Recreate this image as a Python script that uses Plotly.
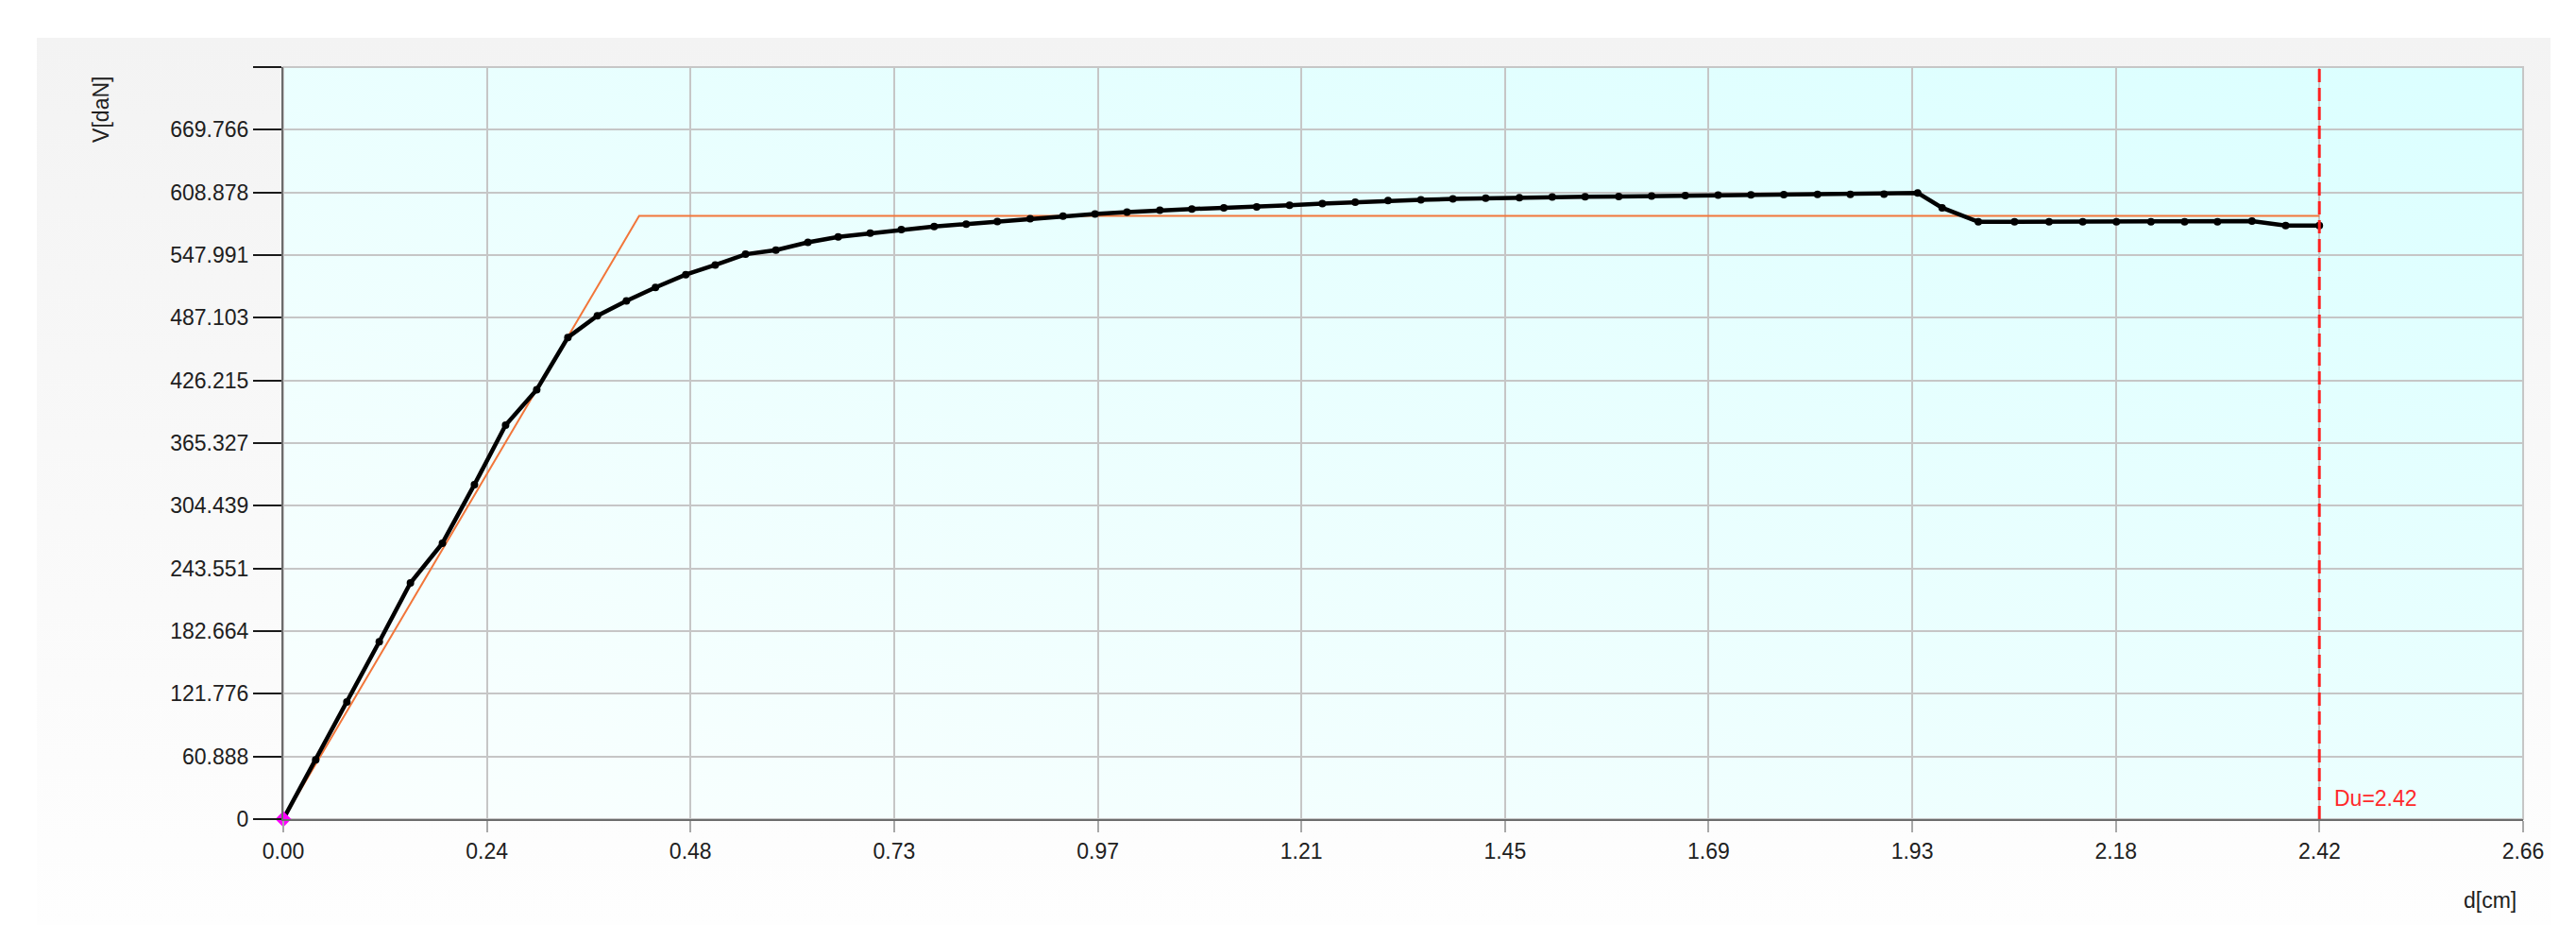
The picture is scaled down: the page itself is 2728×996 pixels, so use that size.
# -*- coding: utf-8 -*-

import base64

import plotly.graph_objs as go

# measured capacity curve (displacement in cm, shear in daN)
displacement_cm = [
    0.000, 0.0385, 0.0755, 0.114, 0.151, 0.189, 0.227, 0.264, 0.301, 0.338,
    0.373, 0.4075, 0.442, 0.478, 0.513, 0.549, 0.585, 0.623, 0.659, 0.697,
    0.734, 0.773, 0.811, 0.848, 0.887, 0.926, 0.964, 1.002, 1.041, 1.079,
    1.117, 1.156, 1.195, 1.234, 1.273, 1.312, 1.351, 1.389, 1.428, 1.468,
    1.507, 1.546, 1.586, 1.625, 1.665, 1.704, 1.743, 1.782, 1.822, 1.861,
    1.901, 1.941, 1.970, 2.013, 2.056, 2.097, 2.137, 2.177, 2.218, 2.258,
    2.297, 2.338, 2.378, 2.418,
]
shear_dan = [
    0.0, 57.6, 113.8, 172.3, 229.5, 268.1, 325.0, 382.8, 417.2, 468.0,
    489.0, 503.5, 516.6, 529.0, 538.4, 548.8, 552.8, 560.4, 565.6, 569.3,
    572.7, 575.7, 578.1, 580.6, 583.3, 585.8, 588.0, 589.8, 591.6, 592.8,
    594.0, 594.9, 596.5, 598.0, 599.5, 601.0, 601.6, 602.5, 603.2, 603.8,
    604.4, 604.7, 605.0, 605.3, 605.8, 606.2, 606.5, 606.8, 607.0, 607.0,
    607.1, 608.3, 594.0, 580.3, 580.3, 580.3, 580.3, 580.3, 580.3, 580.3,
    580.3, 581.0, 576.6, 576.6,
]

# idealised bilinear curve
bilinear_d = [0.0, 0.4226, 2.418]
bilinear_v = [0.0, 586.0, 586.0]

ultimate_d = 2.418
ultimate_label = "Du=2.42"

x_tick_values = [0.0, 0.2418, 0.4836, 0.7255, 0.9673, 1.2091, 1.4509, 1.6927,
                 1.9345, 2.1764, 2.4182, 2.66]
x_tick_labels = ["0.00", "0.24", "0.48", "0.73", "0.97", "1.21", "1.45", "1.69",
                 "1.93", "2.18", "2.42", "2.66"]
y_tick_values = [0.0, 60.888, 121.776, 182.664, 243.551, 304.439, 365.327,
                 426.215, 487.103, 547.991, 608.878, 669.766, 730.654]
y_tick_labels = ["0", "60.888", "121.776", "182.664", "243.551", "304.439",
                 "365.327", "426.215", "487.103", "547.991", "608.878",
                 "669.766", ""]

FONT = "Liberation Sans, Arial, sans-serif"
TEXT_COLOR = "#202020"
GRID_COLOR = "#c6c6c6"


def _gradient_uri(x1, y1, x2, y2, start_color, stop_color):
    """Return an svg data uri holding a stretched linear gradient."""
    svg = (
        '<svg xmlns="http://www.w3.org/2000/svg" width="100" height="100" '
        'viewBox="0 0 100 100" preserveAspectRatio="none">'
        '<defs><linearGradient id="g" x1="{}" y1="{}" x2="{}" y2="{}">'
        '<stop offset="0" stop-color="{}"/><stop offset="1" stop-color="{}"/>'
        '</linearGradient></defs>'
        '<rect width="100" height="100" fill="url(#g)"/></svg>'
    ).format(x1, y1, x2, y2, start_color, stop_color)
    return "data:image/svg+xml;base64," + base64.b64encode(svg.encode()).decode()


def build_figure() -> go.Figure:
    figure = go.Figure()

    figure.add_trace(
        go.Scatter(
            x=bilinear_d,
            y=bilinear_v,
            mode="lines",
            line={"color": "#f2763a", "width": 2},
            hoverinfo="skip",
        )
    )
    figure.add_trace(
        go.Scatter(
            x=displacement_cm,
            y=shear_dan,
            mode="lines+markers",
            line={"color": "#000000", "width": 4.5},
            marker={"color": "#000000", "size": 8},
        )
    )
    figure.add_trace(
        go.Scatter(
            x=displacement_cm[:1],
            y=shear_dan[:1],
            mode="markers",
            marker={"color": "#ff00ff", "size": 13, "symbol": "diamond"},
            cliponaxis=False,
        )
    )

    figure.add_shape(
        type="line",
        x0=ultimate_d,
        x1=ultimate_d,
        y0=0,
        y1=1,
        xref="x",
        yref="paper",
        line={"color": "#ff2020", "width": 3, "dash": "14px,6px"},
    )
    figure.add_annotation(
        x=ultimate_d,
        y=0.028,
        xref="x",
        yref="paper",
        text=ultimate_label,
        showarrow=False,
        xanchor="left",
        yanchor="middle",
        xshift=14,
        font={"family": FONT, "size": 23, "color": "#ff2a2a"},
    )

    figure.add_annotation(
        x=-0.0814,
        y=0.9435,
        xref="paper",
        yref="paper",
        text="V[daN]",
        textangle=-90,
        showarrow=False,
        xanchor="center",
        yanchor="middle",
        font={"family": FONT, "size": 23, "color": TEXT_COLOR},
    )
    figure.add_annotation(
        x=0.9852,
        y=-0.108,
        xref="paper",
        yref="paper",
        text="d[cm]",
        showarrow=False,
        xanchor="center",
        yanchor="middle",
        font={"family": FONT, "size": 23, "color": TEXT_COLOR},
    )

    # plot area border
    figure.add_shape(
        type="rect",
        x0=0,
        x1=1,
        y0=0,
        y1=1,
        xref="paper",
        yref="paper",
        line={"color": GRID_COLOR, "width": 2},
        layer="below",
    )

    # the page body adds an 8px margin, so the figure is drawn 16px smaller
    figure.update_layout(
        width=2712,
        height=980,
        margin={"l": 292, "r": 48, "t": 63, "b": 121},
        paper_bgcolor="#ffffff",
        plot_bgcolor="rgba(0,0,0,0)",
        showlegend=False,
        font={"family": FONT, "size": 23, "color": TEXT_COLOR},
        images=[
            {
                "source": _gradient_uri(0, 0, 0, 1, "#f3f3f3", "#fefefe"),
                "xref": "paper",
                "yref": "paper",
                "x": -0.11003,
                "y": 1.03894,
                "sizex": 1.12226,
                "sizey": 1.17965,
                "xanchor": "left",
                "yanchor": "top",
                "sizing": "stretch",
                "layer": "below",
            },
            {
                "source": _gradient_uri(0, 1, 1, 0, "#fafffe", "#dbffff"),
                "xref": "paper",
                "yref": "paper",
                "x": 0,
                "y": 1,
                "sizex": 1,
                "sizey": 1,
                "xanchor": "left",
                "yanchor": "top",
                "sizing": "stretch",
                "layer": "below",
            },
        ],
        xaxis={
            "range": [0, 2.66],
            "tickmode": "array",
            "tickvals": x_tick_values,
            "ticktext": x_tick_labels,
            "showgrid": True,
            "gridcolor": GRID_COLOR,
            "gridwidth": 2,
            "zeroline": False,
            "showline": True,
            "linecolor": "#6c6c6c",
            "linewidth": 2,
            "ticks": "outside",
            "ticklen": 12,
            "tickwidth": 2,
            "tickcolor": "#a8a8a8",
            "tickfont": {"size": 23, "color": TEXT_COLOR},
        },
        yaxis={
            "range": [0, 730.654],
            "tickmode": "array",
            "tickvals": y_tick_values,
            "ticktext": y_tick_labels,
            "showgrid": True,
            "gridcolor": GRID_COLOR,
            "gridwidth": 2,
            "zeroline": False,
            "showline": True,
            "linecolor": "#6c6c6c",
            "linewidth": 2,
            "ticks": "outside",
            "ticklen": 30,
            "tickwidth": 2,
            "tickcolor": "#1a1a1a",
            "tickfont": {"size": 23, "color": TEXT_COLOR},
        },
    )
    return figure


fig = build_figure()
fig.write_html("out.html")
